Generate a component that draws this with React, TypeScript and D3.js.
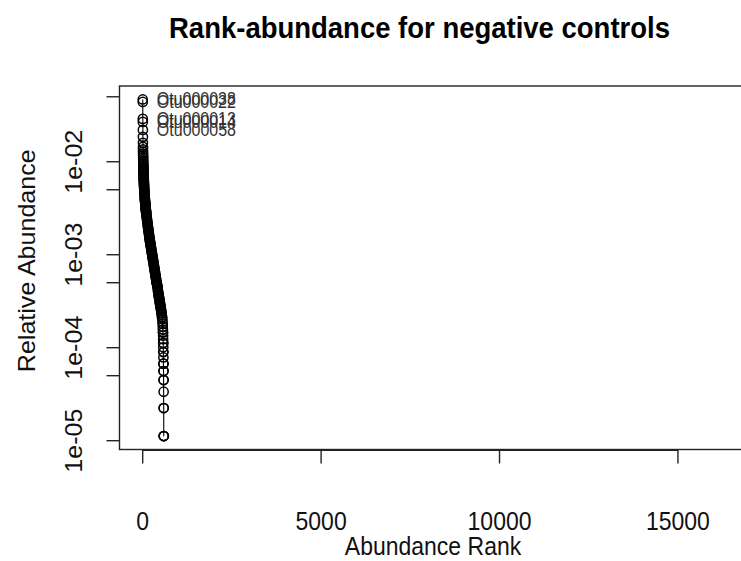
import React from "react";
import * as d3 from "d3";

// ---- data ----
const totalOtus = 16276; // OTUs in the table (x range)
const totalReads = 89125; // reads in negative controls

const ranks = [
  1, 2, 3, 4, 5, 6, 7, 8, 9, 10, 11, 12, 13, 14, 15, 16, 17, 18, 19, 20,
  21, 22, 23, 24, 25, 26, 27, 28, 29, 30, 31, 32, 33, 34, 35, 36, 37, 38, 39, 40,
  42, 44, 46, 48, 50, 52, 54, 56, 58, 60, 62, 64, 66, 68, 70, 72, 74, 76, 78, 80,
  82, 84, 86, 88, 90, 92, 94, 96, 98, 100,
  105, 110, 115, 120, 125, 130, 135, 140, 145, 150,
  155, 160, 165, 170, 175, 180, 185, 190, 195, 200,
  205, 210, 215, 220, 225, 230, 235, 240, 245, 250,
  255, 260, 265, 270, 275, 280, 285, 290, 295, 300,
  305, 310, 315, 320, 325, 330, 335, 340, 345, 350,
  355, 360, 365, 370, 375, 380, 385, 390, 395, 400,
  405, 410, 415, 420, 425, 430, 435, 440, 445, 450,
  455, 460, 465, 470, 475, 480, 485, 490, 495, 500,
  505, 510, 515, 520, 525, 530, 535, 540, 545, 550, 555, 560,
  563, 566, 568, 570, 572, 573, 575, 576, 577, 578, 579, 580, 581, 582, 583,
  584, 585, 586, 587, 588, 589, 590, 591, 592,
];

const readCounts = [
  4169, 3920, 2576, 2392, 1963, 1651, 1423, 1290, 1212, 1140, 1090, 1043, 998, 954, 913, 882, 852, 823, 795, 768,
  747, 727, 708, 689, 670, 652, 635, 618, 601, 585, 572, 560, 547, 535, 524, 512, 501, 490, 479, 469,
  456, 444, 432, 421, 409, 398, 388, 377, 367, 357, 350, 343, 336, 330, 323, 317, 311, 305, 299, 293,
  288, 283, 278, 274, 269, 265, 260, 256, 251, 247,
  239, 230, 223, 215, 208, 201, 194, 187, 181, 175,
  169, 164, 159, 154, 149, 144, 139, 135, 131, 127,
  124, 120, 117, 114, 111, 108, 105, 102, 99, 97,
  94, 92, 89, 87, 84, 82, 80, 78, 76, 74,
  72, 70, 68, 66, 64, 63, 61, 59, 58, 56,
  54, 53, 52, 50, 49, 47, 46, 45, 44, 43,
  42, 41, 40, 39, 37, 36, 35, 34, 33, 32,
  31, 31, 30, 29, 28, 27, 27, 26, 25, 25,
  24, 23, 23, 22, 21, 21, 20, 19, 19, 18, 17, 16,
  15, 14, 13, 13, 12, 11, 10, 10, 9, 8, 8, 7, 6, 6, 5,
  5, 4, 4, 3, 2, 2, 1, 1, 1,
];

const topOtuLabels = ["Otu000038", "Otu000022", "Otu000013", "Otu000014", "Otu000058"];

const xTickValues = [0, 5000, 10000, 15000];
const yTickValues = [5e-2, 1e-2, 5e-3, 1e-3, 5e-4, 1e-4, 5e-5, 1e-5];
const yLabelValues = [1e-2, 1e-3, 1e-4, 1e-5];
const yLabelText = ["1e-02", "1e-03", "1e-04", "1e-05"];

const titleText = "Rank-abundance for negative controls";
const xTitle = "Abundance Rank";
const yTitle = "Relative Abundance";

// ---- layout ----
const W = 741;
const H = 561;
const boxL = 119.5;
const boxR = 746.7;
const boxT = 86;
const boxB = 449.5;
const FONT = "'Liberation Sans', Arial, Helvetica, sans-serif";
const INK = "#222";
const STRETCH = 1.09; // text in the reference is slightly taller than wide

export default function App() {
  const pts = ranks.map((r, i) => ({ r, v: readCounts[i] / totalReads }));

  const n = totalOtus;
  const xPad = 0.04 * (n - 1);
  const x = d3.scaleLinear().domain([1 - xPad, n + xPad]).range([boxL, boxR]);

  const lo = Math.log10(d3.min(pts, (d) => d.v) as number);
  const hi = Math.log10(d3.max(pts, (d) => d.v) as number);
  const yPad = 0.04 * (hi - lo);
  const y = d3
    .scaleLog()
    .domain([Math.pow(10, lo - yPad), Math.pow(10, hi + yPad)])
    .range([boxB, boxT]);

  const line = d3
    .line<{ r: number; v: number }>()
    .x((d) => x(d.r))
    .y((d) => y(d.v));

  const tickLen = 14;

  return (
    <svg
      width={W}
      height={H}
      style={{ position: "absolute", left: 0, top: 0, background: "#fff" }}
      fontFamily={FONT}
    >
      <rect x={0} y={0} width={W} height={H} fill="#fff" />
      {/* title */}
      <text
        transform={`translate(419.5,38) scale(1,${STRETCH})`}
        textAnchor="middle"
        fontWeight="bold"
        fontSize={27.5}
        fill="#000"
      >
        {titleText}
      </text>

      {/* plot box */}
      <rect x={boxL} y={boxT} width={boxR - boxL} height={boxB - boxT} fill="none" stroke={INK} strokeWidth={1.4} />

      {/* x axis */}
      <line x1={x(xTickValues[0])} x2={x(xTickValues[xTickValues.length - 1])} y1={boxB + 0.7} y2={boxB + 0.7} stroke={INK} strokeWidth={1.4} />
      {xTickValues.map((t) => (
        <g key={"xt" + t}>
          <line x1={x(t)} x2={x(t)} y1={boxB} y2={boxB + tickLen} stroke={INK} strokeWidth={1.4} />
          <text
            transform={`translate(${x(t)},530) scale(1,${STRETCH})`}
            textAnchor="middle"
            fontSize={23}
            fill="#111"
          >
            {String(t)}
          </text>
        </g>
      ))}
      <text
        transform={`translate(433,555) scale(1,${STRETCH})`}
        textAnchor="middle"
        fontSize={23}
        fill="#111"
      >
        {xTitle}
      </text>

      {/* y axis */}
      {yTickValues.map((t) => (
        <line key={"yt" + t} x1={boxL - tickLen + 1} x2={boxL} y1={y(t)} y2={y(t)} stroke={INK} strokeWidth={1.4} />
      ))}
      {yLabelValues.map((t, i) => (
        <text
          key={"yl" + t}
          transform={`translate(82,${y(t)}) rotate(-90) scale(${STRETCH},1)`}
          textAnchor="middle"
          fontSize={23}
          fill="#111"
        >
          {yLabelText[i]}
        </text>
      ))}
      <text
        transform={`translate(35,${(boxT + boxB) / 2 - 7}) rotate(-90) scale(${STRETCH},1)`}
        textAnchor="middle"
        fontSize={23}
        fill="#111"
      >
        {yTitle}
      </text>

      {/* data */}
      <path d={line(pts) || ""} fill="none" stroke="#000" strokeWidth={1.1} />
      {pts.map((d, i) => (
        <circle key={"p" + i} cx={x(d.r)} cy={y(d.v)} r={4.6} fill="none" stroke="#000" strokeWidth={1.5} />
      ))}

      {/* top OTU labels */}
      {topOtuLabels.map((lab, i) => (
        <text
          key={lab}
          transform={`translate(${x(pts[i].r) + 14},${y(pts[i].v) + 6}) scale(1,${STRETCH})`}
          fontSize={16}
          fill="#333"
        >
          {lab}
        </text>
      ))}
    </svg>
  );
}
